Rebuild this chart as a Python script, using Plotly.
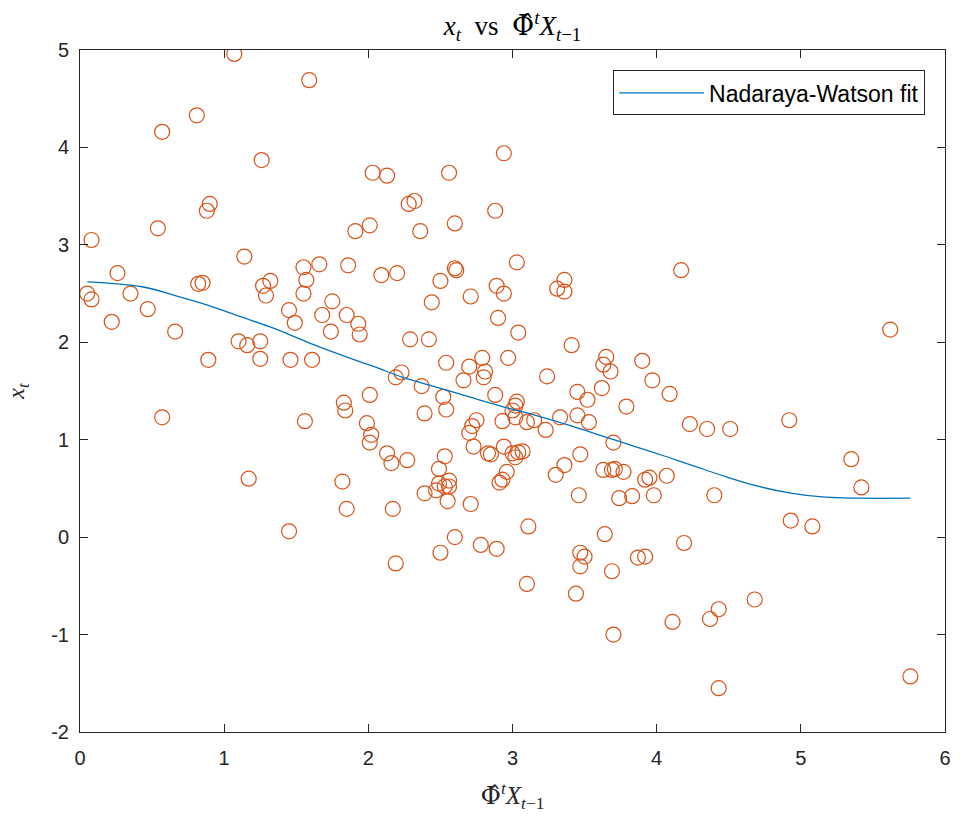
import plotly.graph_objects as go

# Scatter of observed x_t against the projected regressor Phi_hat^t X_{t-1}
phi_x = [
    0.05, 0.08, 0.08, 0.22, 0.26, 0.35, 0.47, 0.54, 0.57, 0.57,
    0.66, 0.81, 0.82, 0.85, 0.88, 0.90, 0.89, 1.07, 1.10, 1.14,
    1.16, 1.17, 1.25, 1.25, 1.26, 1.27, 1.32, 1.29, 1.45, 1.45,
    1.46, 1.49, 1.55, 1.57, 1.55, 1.56, 1.59, 1.61, 1.66, 1.68,
    1.75, 1.74, 1.83, 1.84, 1.82, 1.85, 1.85, 1.86, 1.93, 1.91,
    1.94, 1.99, 2.02, 2.01, 2.01, 2.03, 2.01, 2.13, 2.09, 2.20,
    2.28, 2.32, 2.36, 2.29, 2.42, 2.44, 2.50, 2.56, 2.60, 2.60,
    2.61, 2.71, 2.88, 2.94, 2.89, 2.94, 2.90, 3.03, 3.04, 3.31,
    3.36, 3.36, 3.41, 2.54, 2.70, 2.79, 2.81, 2.80, 2.66, 2.97,
    3.24, 3.65, 3.63, 3.68, 3.90, 3.97, 4.09, 3.62, 3.45, 3.52,
    3.79, 2.19, 2.23, 2.37, 2.52, 2.54, 2.39, 2.88, 3.03, 3.02,
    3.00, 3.02, 2.93, 3.10, 3.15, 3.23, 3.33, 3.45, 3.53, 3.70,
    2.75, 2.72, 2.70, 2.73, 2.83, 2.85, 2.94, 3.00, 3.04, 3.07,
    3.02, 2.13, 2.16, 2.27, 2.53, 2.49, 2.49, 2.56, 2.53, 2.56,
    2.39, 2.47, 2.55, 2.71, 2.17, 2.96, 2.93, 2.91, 3.47, 3.36,
    3.30, 3.63, 3.69, 3.71, 3.77, 3.46, 3.74, 3.83, 3.92, 3.95,
    3.98, 4.07, 3.11, 2.60, 2.50, 2.78, 2.89, 2.19, 3.10, 3.64,
    3.47, 3.50, 3.47, 3.69, 3.87, 3.92, 3.44, 3.70, 4.11, 4.40,
    4.93, 5.08, 4.19, 4.37, 4.43, 4.68, 4.43, 5.76, 4.17, 5.62,
    4.23, 4.35, 4.51, 4.92, 5.35, 5.42,
]
x_t = [
    2.50, 2.44, 3.05, 2.21, 2.71, 2.50, 2.34, 3.17, 4.16, 1.23,
    2.11, 4.33, 2.60, 2.61, 3.35, 3.42, 1.82, 4.96, 2.01, 2.88,
    1.97, 0.60, 2.01, 1.83, 3.87, 2.58, 2.63, 2.48, 2.33, 0.06,
    1.82, 2.20, 2.77, 2.64, 2.50, 1.19, 4.69, 1.82, 2.80, 2.28,
    2.42, 2.11, 1.38, 1.30, 0.57, 0.29, 2.28, 2.79, 2.19, 3.14,
    2.08, 1.17, 1.05, 0.97, 3.20, 3.74, 1.46, 3.71, 2.69, 2.71,
    3.42, 3.45, 3.14, 2.03, 2.03, 2.41, 2.63, 3.74, 3.22, 2.76,
    2.74, 2.47, 3.35, 3.94, 2.58, 2.50, 2.25, 2.82, 2.10, 2.55,
    2.64, 2.52, 1.97, 1.79, 1.75, 1.84, 1.70, 1.64, 1.61, 1.84,
    1.65, 1.85, 1.77, 1.70, 1.81, 1.61, 1.47, 1.53, 1.49, 1.41,
    1.34, 1.64, 1.69, 1.55, 1.44, 1.31, 1.27, 1.46, 1.39, 1.35,
    1.30, 1.23, 1.19, 1.18, 1.20, 1.10, 1.23, 1.25, 1.18, 0.97,
    1.20, 1.14, 1.07, 0.93, 0.86, 0.85, 0.93, 0.86, 0.87, 0.88,
    0.82, 0.86, 0.76, 0.79, 0.83, 0.70, 0.55, 0.58, 0.52, 0.52,
    0.45, 0.48, 0.37, 0.34, 0.29, 0.67, 0.59, 0.56, 0.85, 0.74,
    0.64, 0.69, 0.69, 0.70, 0.67, 0.43, 0.40, 0.42, 0.59, 0.61,
    0.43, 0.63, 0.11, 0.00, -0.16, -0.08, -0.12, -0.27, -0.48, 0.03,
    -0.16, -0.20, -0.30, -0.35, -0.21, -0.20, -0.58, -1.00, -0.87, 0.43,
    0.17, 0.11, -0.06, -0.84, -0.74, -0.64, -1.55, -1.43, 2.74, 2.13,
    1.16, 1.11, 1.11, 1.20, 0.80, 0.51,
]

# Kernel-regression curve evaluated on a grid across the data range
fit_x = [0.05, 0.43, 0.66, 0.89, 1.12, 1.35, 1.58, 1.81, 2.04, 2.24,
         2.47, 2.70, 2.93, 3.16, 3.39, 3.62, 3.85, 4.08, 4.24, 4.48,
         4.71, 4.94, 5.17, 5.40, 5.76]
fit_y = [2.62, 2.57, 2.48, 2.38, 2.26, 2.14, 2.00, 1.87, 1.75, 1.64,
         1.54, 1.44, 1.34, 1.25, 1.15, 1.04, 0.93, 0.82, 0.74, 0.62,
         0.52, 0.45, 0.41, 0.40, 0.40]

x_ticks = [0, 1, 2, 3, 4, 5, 6]
y_ticks = [-2, -1, 0, 1, 2, 3, 4, 5]
y_tick_text = ["-2", "-1", "0", "1", "2", "3", "4", "5"]

AX = "#262626"
SANS = "Liberation Sans, Arial, Helvetica, sans-serif"
SERIF = "Liberation Serif, Times New Roman, serif"
PHI_HAT = '<span style="font-family:DejaVu Serif">Φ̂</span>'
REGRESSOR = PHI_HAT + "<sup><i>t</i></sup><i>X</i><sub><i>t</i>−1</sub>"

fig = go.Figure()
fig.add_trace(go.Scatter(
    x=phi_x, y=x_t, mode="markers", showlegend=False,
    marker=dict(symbol="circle-open", size=15, color="#D95319",
                line=dict(width=1.2, color="#D95319")),
))
fig.add_trace(go.Scatter(
    x=fit_x, y=fit_y, mode="lines", name="Nadaraya-Watson fit",
    line=dict(color="#0072BD", width=1.3, shape="spline"),
))

axis_common = dict(
    showgrid=False, zeroline=False, showline=True, linecolor=AX, linewidth=1,
    mirror="ticks", ticks="inside", ticklen=8, tickcolor=AX, tickwidth=1,
    tickfont=dict(family=SANS, size=20, color=AX),
)
fig.update_xaxes(range=[0, 6], tickvals=x_ticks, ticklabelstandoff=8, **axis_common,
                 title=dict(text=REGRESSOR,
                            font=dict(family=SERIF, size=25, color=AX), standoff=18))
fig.update_yaxes(range=[-2, 5], tickvals=y_ticks, ticktext=y_tick_text,
                 ticklabelstandoff=6, **axis_common,
                 title=dict(text="<i>x<sub>t</sub></i>",
                            font=dict(family=SERIF, size=24, color=AX), standoff=19))

fig.update_layout(
    width=963, height=820,
    margin=dict(l=80, r=16, t=49.5, b=88),
    paper_bgcolor="white", plot_bgcolor="white",
    title=dict(text="<i>x<sub>t</sub></i>\u2002vs\u2002" + REGRESSOR,
               x=0.5, xref="paper", xanchor="center",
               y=1 - 26 / 820, yref="container", yanchor="middle",
               font=dict(family=SERIF, size=27, color="black")),
    legend=dict(x=0.977, y=0.97, xanchor="right", yanchor="top",
                bgcolor="white", bordercolor=AX, borderwidth=1,
                font=dict(family=SANS, size=23, color="black"),
                itemwidth=85, tracegroupgap=0),
)

fig.write_html("out.html")
